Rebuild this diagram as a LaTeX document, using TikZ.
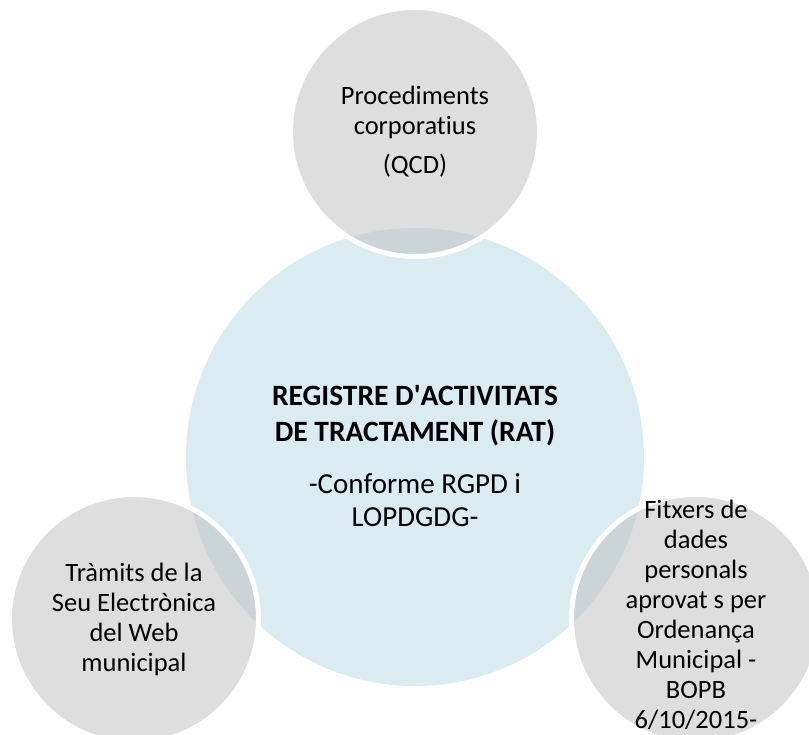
\documentclass[tikz,border=0pt]{standalone}
\usepackage{fontspec}
\setmainfont{Carlito}[Ligatures=NoCommon]
\usetikzlibrary{shapes}

\definecolor{ratblue}{RGB}{218,236,242}
\definecolor{srcgrey}{RGB}{189,189,189}

\begin{document}
\begin{tikzpicture}[x=1bp, y=-1bp,
    outer/.style={circle, minimum size=249bp, inner sep=0pt, fill=srcgrey, fill opacity=0.5, draw=white, line width=5bp},
    outertext/.style={align=center, font=\fontsize{26.5bp}{30bp}\selectfont}]

        \useasboundingbox (0,0) rectangle (809,735);

        % Declare the circles
        \node[circle, minimum size=458bp, inner sep=0pt, fill=ratblue] at (415, 457) (RAT) {};
        \node[outer] at (415, 132) (QCD) {};
        \node[outer] at (134, 619) (Seu) {};
        \node[outer] at (696, 619) (Fitx) {};

        % Declare the texts
        \node[align=center, font=\fontsize{29.5bp}{36bp}\selectfont\bfseries] at (415, 416) (RATtitle) {REGISTRE D\textquotesingle ACTIVITATS\\ DE TRACTAMENT (RAT)};
        \node[align=center, font=\fontsize{29bp}{33bp}\selectfont] at (415, 500) (RATsub) {-Conforme RGPD i\\ LOPDGDG-};
        \node[outertext] at (QCD.center) (QCDtext) {Procediments\\ corporatius\\[9bp] (QCD)};
        \node[outertext] at (Seu.center) (Seutext) {Tràmits de la\\ Seu Electrònica\\ del Web\\ municipal};
        \node[outertext] at (696, 615) (Fitxtext) {Fitxers de\\ dades\\ personals\\ aprovat s per\\ Ordenança\\ Municipal -\\ BOPB\\ 6/10/2015-};

    \end{tikzpicture}
\end{document}
